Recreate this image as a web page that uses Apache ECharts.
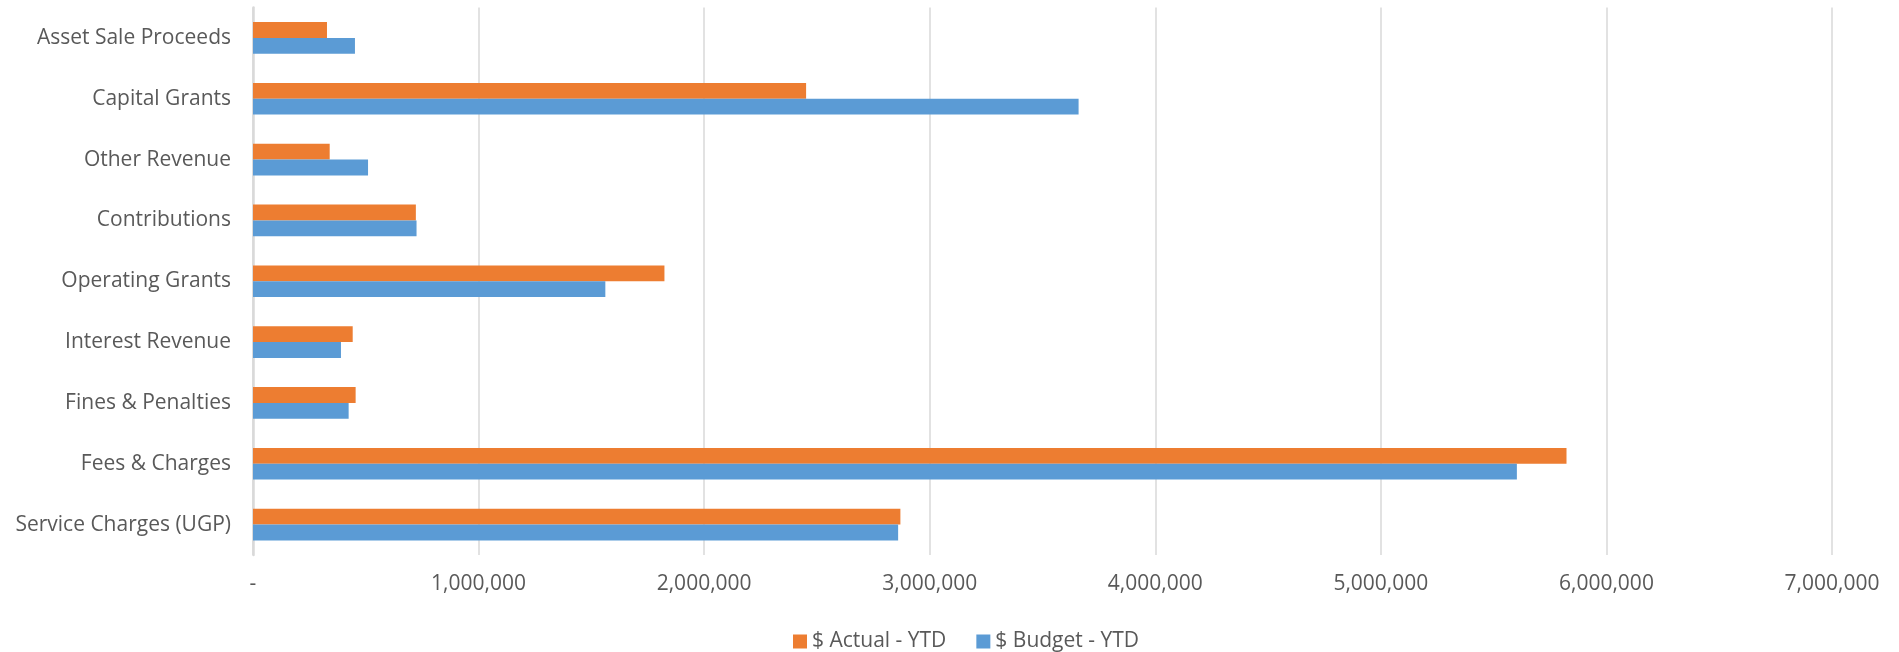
<!DOCTYPE html>
<html>
<head>
<meta charset="utf-8">
<script src="https://cdn.jsdelivr.net/npm/echarts@6/dist/echarts.min.js"></script>
<style>
html,body{margin:0;padding:0;background:#fff;}
#chart{width:1899px;height:652px;}
</style>
</head>
<body>
<div id="chart"></div>
<script>
// Categories listed bottom to top
const categories = ['Service Charges (UGP)', 'Fees & Charges', 'Fines & Penalties', 'Interest Revenue', 'Operating Grants', 'Contributions', 'Other Revenue', 'Capital Grants', 'Asset Sale Proceeds'];
const actualYTD = [2870000, 5823000, 455000, 442000, 1824000, 722000, 340000, 2452000, 328000];
const budgetYTD = [2860000, 5603000, 424000, 390000, 1562000, 725000, 510000, 3660000, 452000];
const seriesNames = ['$ Actual - YTD', '$ Budget - YTD'];
const xTicks = { min: 0, max: 7000000, interval: 1000000 };

const FONT = 'Open Sans';
const TXT = '#595959';
const chart = echarts.init(document.getElementById('chart'));
chart.setOption({
  animation: false,
  textStyle: { fontFamily: FONT },
  grid: { left: 253, right: 67, top: 7.5, bottom: 97, containLabel: false },
  legend: {
    data: [seriesNames[0], seriesNames[1]],
    left: 788, top: 626,
    itemWidth: 14, itemHeight: 14, itemGap: 30,
    icon: 'rect',
    textStyle: { fontFamily: FONT, fontSize: 21, color: TXT }
  },
  xAxis: {
    type: 'value', min: xTicks.min, max: xTicks.max, interval: xTicks.interval,
    axisLine: { show: false }, axisTick: { show: false },
    splitLine: { show: true, lineStyle: { color: '#d9d9d9', width: 1.5 } },
    axisLabel: {
      margin: 19, fontFamily: FONT, fontSize: 21, color: TXT,
      formatter: v => v === 0 ? '-' : v.toLocaleString('en-US')
    }
  },
  yAxis: {
    type: 'category', data: categories,
    axisLine: { show: true, lineStyle: { color: '#d9d9d9', width: 2.5 } },
    axisTick: { show: false },
    axisLabel: { margin: 22, fontFamily: FONT, fontSize: 21, color: TXT }
  },
  series: [
    { name: seriesNames[0], type: 'bar', data: actualYTD, barWidth: 15.8, barGap: '0%',
      itemStyle: { color: '#ED7D31' } },
    { name: seriesNames[1], type: 'bar', data: budgetYTD, barWidth: 15.8, barGap: '0%',
      itemStyle: { color: '#5B9BD5' } }
  ]
});
</script>
</body>
</html>
